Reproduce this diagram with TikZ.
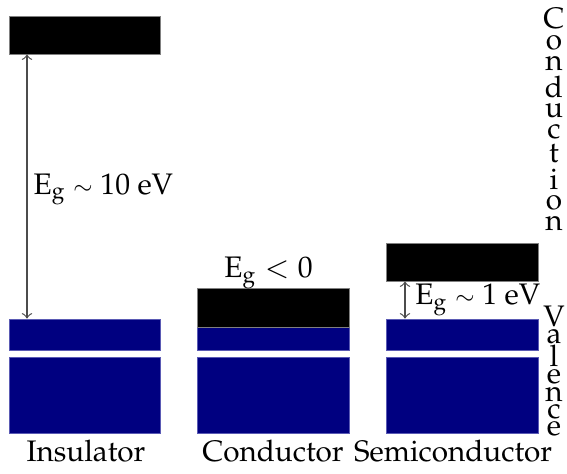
\documentclass[tikz,border=0pt]{standalone}
\usepackage[T1]{fontenc}
\usepackage{mathpazo}
\usetikzlibrary{fit,positioning}
\definecolor{bandblue}{HTML}{000080}
\definecolor{bandedge}{HTML}{5A5AB4}
\newcommand{\letterstack}[2][1.6pt]{\vbox{\baselineskip=0pt\lineskiplimit=0pt\lineskip=#1
  \halign{\hfil##\hfil\cr#2\crcr}}}
\newcommand{\gapsim}{{\footnotesize$\sim$}}
\tikzset{
  cband/.style={fill=black, draw=gray, line width=0.3pt, inner sep=0pt},
  vband/.style={fill=bandblue, draw=bandedge, line width=0.3pt, inner sep=0pt},
  gaparrow/.style={<->, gray!60!black, line width=0.4pt},
  gaplabel/.style={text=black},
  bandname/.style={inner sep=0pt},
  matname/.style={inner sep=0pt},
}

\begin{document}
\begin{tikzpicture}[x=0.337pt, y=-0.337pt]
  \useasboundingbox (0,0) rectangle (567,473);

  % Insulator
  \node[cband, fit={(9,16) (160,54)}] (insC) {};
  \node[vband, fit={(9,319) (160,350)}] (insV) {};
  \node[vband, fit={(9,357) (160,433)}] (insL) {};
  \coordinate (insX) at (27,0);
  \draw[gaparrow] (insC.south -| insX) -- (insV.north -| insX)
    node[gaplabel, midway, right, xshift=-1.3pt, yshift=-1pt] {E$_{\mathrm{g}}$ \gapsim{} 10 eV};
  \node[matname, below=2pt of insL, xshift=0.5pt] (insT) {Insulator};

  % Conductor
  \node[vband, fit={(197,319) (349,350)}] (conV) {};
  \node[vband, fit={(197,357) (349,433)}] (conL) {};
  \node[cband, fit={(197,288) (349,327)}] (conC) {};
  \node[inner sep=0pt, above=-0.6pt of conC, xshift=-1.5pt] (conE) {E$_{\mathrm{g}} < 0$};
  \node[matname, below=2pt of conL] (conT) {Conductor};

  % Semiconductor
  \node[cband, fit={(386,243) (538,281)}] (semC) {};
  \node[vband, fit={(386,319) (538,350)}] (semV) {};
  \node[vband, fit={(386,357) (538,433)}] (semL) {};
  \coordinate (semX) at (405,0);
  \draw[gaparrow] (semC.south -| semX) -- (semV.north -| semX)
    node[gaplabel, midway, right] {E$_{\mathrm{g}}$ \gapsim{} 1 eV};
  \node[matname, below=2pt of semL, xshift=-3pt] (semT) {Semiconductor};

  % band names
  \node[bandname, anchor=north] (condN) at (554,7) {\letterstack[2pt]{C\cr o\cr n\cr d\cr u\cr c\cr t\cr i\cr o\cr n}};
  \node[bandname, anchor=north] (valN) at (554,305) {\letterstack[0.8pt]{V\cr a\cr l\cr e\cr n\cr c\cr e}};
\end{tikzpicture}
\end{document}
